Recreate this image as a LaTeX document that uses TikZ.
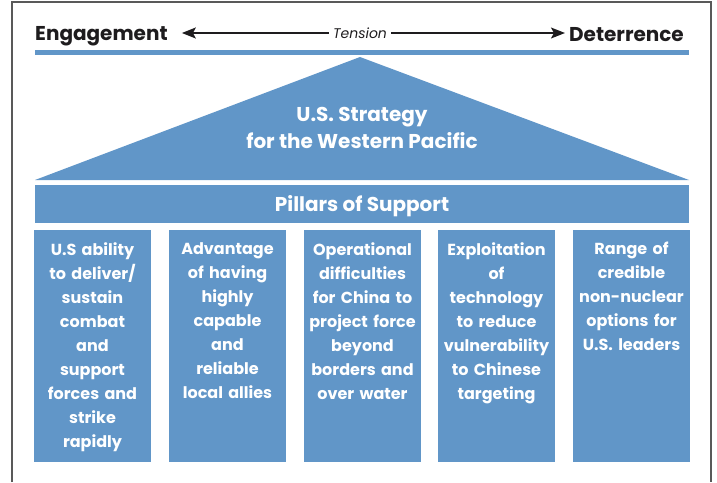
\documentclass[tikz,border=0pt]{standalone}
\usepackage{fontspec}
\setmainfont{Poppins}
\usetikzlibrary{arrows.meta}
\definecolor{pblue}{RGB}{97,150,200}
\definecolor{ink}{RGB}{30,28,30}
\begin{document}
\begin{tikzpicture}[x=1pt,y=-1pt,
  pillar/.style={fill=pblue,draw=none,text=white,align=center,font=\bfseries\fontsize{16}{24}\selectfont,text width=112pt,anchor=north,inner sep=0pt},
  hdr/.style={font=\bfseries\fontsize{20}{24}\selectfont,text=ink,inner sep=0pt},
  arr/.style={draw=ink,line width=1.3pt,-{Stealth[length=14pt,width=11pt,inset=3pt]}}]
\useasboundingbox (0,0) rectangle (717,482);
% frame
\draw[gray!70!black,line width=1.4pt] (12,482) -- (12,2) -- (711,2) -- (711,482);
% header
\node[hdr,anchor=west] (eng) at (35,36) {Engagement};
\node[hdr,anchor=east] (det) at (684,35) {Deterrence};
\node[font=\itshape\fontsize{14}{16}\selectfont,text=ink,inner sep=4pt] (ten) at (360,33) {Tension};
\draw[arr] (ten.west) -- ([xshift=14pt]eng.east |- ten.west);
\draw[arr] (ten.east) -- ([xshift=-4pt]det.west |- ten.east);
\fill[pblue] (35,50) rectangle (689,55);
% roof
\fill[pblue] (360,57) -- (689,180) -- (35,180) -- cycle;
\node[font=\bfseries\fontsize{20}{27}\selectfont,text=white,align=center] (roof) at (362,128) {U.S. Strategy\\for the Western Pacific};
% pillars bar
\node[fill=pblue,minimum width=654pt,minimum height=38pt,inner sep=0pt,anchor=north west] (bar) at (35,185) {};
\node[text=white,font=\bfseries\fontsize{20}{24}\selectfont,inner sep=0pt] (bart) at (362,206) {Pillars of Support};
% pillar boxes
\fill[pblue] (34,230) rectangle (151,462);
\fill[pblue] (169,230) rectangle (286,462);
\fill[pblue] (304,230) rectangle (421,462);
\fill[pblue] (438,230) rectangle (555,462);
\fill[pblue] (573,230) rectangle (690,462);
\node[pillar] (p1) at (92.5,242) {U.S ability\\to deliver/\\sustain\\combat\\and\\support\\forces and\\strike\\rapidly};
\node[pillar] (p2) at (227.5,242) {Advantage\\of having\\highly\\capable\\and\\reliable\\local allies};
\node[pillar] (p3) at (362.5,242) {Operational\\difficulties\\for China to\\project force\\beyond\\borders and\\over water};
\node[pillar] (p4) at (496.5,242) {Exploitation\\of\\technology\\to reduce\\vulnerability\\to Chinese\\targeting};
\node[pillar] (p5) at (631.5,242) {Range of\\credible\\non-nuclear\\options for\\U.S. leaders};
\end{tikzpicture}
\end{document}
